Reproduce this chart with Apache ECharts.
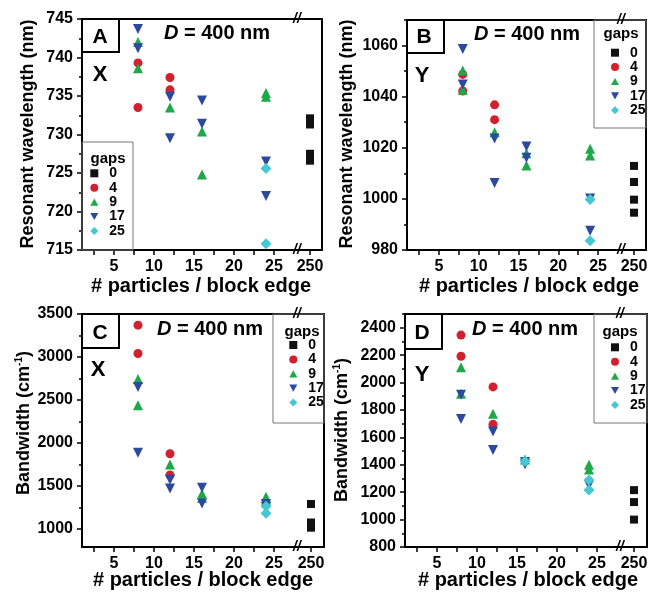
<!DOCTYPE html>
<html>
<head>
<meta charset="utf-8">
<script src="https://cdn.jsdelivr.net/npm/echarts@6/dist/echarts.min.js"></script>
<style>
html,body{margin:0;padding:0;background:#fff;}
#chart{width:651px;height:593px;}
</style>
</head>
<body>
<div id="chart"></div>
<script>
// ---------- data ----------
const gapNames = ['0', '4', '9', '17', '25'];
const xTickLabels = [5, 10, 15, 20, 25];
const xTicks = [2.5, 5, 7.5, 10, 12.5, 15, 17.5, 20, 22.5, 25];
const breakTickLabels = [250];

// Panel A: X, resonant wavelength (nm)
const A_gap0 = [[250, 732.1], [250, 731.3], [250, 727.5], [250, 726.6]];
const A_gap4 = [[8, 739.3], [8, 733.5], [12, 737.4], [12, 735.8]];
const A_gap9 = [[8, 742.0], [8, 738.6], [12, 733.5], [16, 730.4], [16, 724.8], [24, 735.4], [24, 734.9]];
const A_gap17 = [[8, 743.7], [8, 741.2], [12, 734.9], [12, 729.5], [16, 734.4], [16, 731.4], [24, 726.5], [24, 722.0]];
const A_gap25 = [[24, 725.6], [24, 715.8]];
const A_yLabels = [715, 720, 725, 730, 735, 740, 745];
const A_yMinor = [717.5, 722.5, 727.5, 732.5, 737.5, 742.5];

// Panel B: Y, resonant wavelength (nm)
const B_gap0 = [[250, 1012.9], [250, 1006.6], [250, 999.7], [250, 994.6]];
const B_gap4 = [[8, 1048.7], [8, 1042.2], [12, 1036.8], [12, 1031.0]];
const B_gap9 = [[8, 1050.2], [8, 1042.7], [12, 1026.1], [16, 1017.9], [16, 1013.1], [24, 1019.6], [24, 1017.0]];
const B_gap17 = [[8, 1058.7], [8, 1044.8], [12, 1023.6], [12, 1006.2], [16, 1020.5], [16, 1016.1], [24, 1000.2], [24, 987.5]];
const B_gap25 = [[24, 999.8], [24, 983.6]];
const B_yLabels = [980, 1000, 1020, 1040, 1060];
const B_yMinor = [990, 1010, 1030, 1050, 1070];

// Panel C: X, bandwidth (cm-1)
const C_gap0 = [[250, 1290], [250, 1075], [250, 1015]];
const C_gap4 = [[8, 3370], [8, 3040], [12, 1875], [12, 1628]];
const C_gap9 = [[8, 2745], [8, 2440], [12, 1750], [16, 1410], [16, 1360], [24, 1375], [24, 1330]];
const C_gap17 = [[8, 2650], [8, 1885], [12, 1572], [12, 1470], [16, 1478], [16, 1295], [24, 1290], [24, 1255]];
const C_gap25 = [[24, 1265], [24, 1182]];
const C_yLabels = [1000, 1500, 2000, 2500, 3000, 3500];
const C_yMinor = [1250, 1750, 2250, 2750, 3250];

// Panel D: Y, bandwidth (cm-1)
const D_gap0 = [[250, 1215], [250, 1128], [250, 1000]];
const D_gap4 = [[8, 2346], [8, 2192], [12, 1968], [12, 1695]];
const D_gap9 = [[8, 2112], [8, 1919], [12, 1772], [16, 1438], [24, 1400], [24, 1365]];
const D_gap17 = [[8, 1911], [8, 1733], [12, 1643], [12, 1508], [16, 1420], [16, 1403], [24, 1252]];
const D_gap25 = [[16, 1425], [24, 1289], [24, 1215]];
const D_yLabels = [800, 1000, 1200, 1400, 1600, 1800, 2000, 2200, 2400];
const D_yMinor = [900, 1100, 1300, 1500, 1700, 1900, 2100, 2300, 2500];

// ---------- styling / layout ----------
const FONT = "'Liberation Sans', Arial, sans-serif";
const STY = {
  '0': { symbol: 'rect', color: '#111111', size: 8, rotate: 0, icon: 'path://M0,0L10,0L10,10L0,10Z' },
  '4': { symbol: 'circle', color: '#d3202e', size: 9, rotate: 0, icon: 'circle' },
  '9': { symbol: 'triangle', color: '#1fa84a', size: 10, rotate: 0, icon: 'path://M5,0L10,9L0,9Z' },
  '17': { symbol: 'triangle', color: '#2b4a9f', size: 10, rotate: 180, icon: 'path://M0,0L10,0L5,9Z' },
  '25': { symbol: 'diamond', color: '#46c7d3', size: 11, rotate: 0, icon: 'path://M5,0L10,5L5,10L0,5Z' }
};

const panels = [
  { letter: 'A', pol: 'X', data: [A_gap0, A_gap4, A_gap9, A_gap17, A_gap25], yLab: A_yLabels, yMinor: A_yMinor, yMin: 715, yMax: 745,
    left: 82, top: 19, bottom: 250, brk: 298, right: 322, ytitle: 'Resonant wavelength (nm)',
    yt: [28, 134], xt: [201, 286], box: [82, 19, 119, 52], let: [100, 37], pl: [100, 75], dnm: [217, 33],
    lg: [82, 142, 133, 250], gaps: [108, 159], lgPos: [90.3, 166.3] },
  { letter: 'B', pol: 'Y', data: [B_gap0, B_gap4, B_gap9, B_gap17, B_gap25], yLab: B_yLabels, yMinor: B_yMinor, yMin: 980, yMax: 1070,
    left: 407, top: 20, bottom: 250, brk: 622, right: 646, ytitle: 'Resonant wavelength (nm)',
    yt: [347, 134], xt: [529, 286], box: [407, 20, 444, 53], let: [424, 37], pl: [422, 76], dnm: [527, 34],
    lg: [594, 20, 646, 128], gaps: [621, 34], lgPos: [611, 45.7] },
  { letter: 'C', pol: 'X', data: [C_gap0, C_gap4, C_gap9, C_gap17, C_gap25], yLab: C_yLabels, yMinor: C_yMinor, yMin: 790, yMax: 3500,
    left: 82, top: 314, bottom: 547, brk: 298, right: 324, ytitle: 'Bandwidth (cm{sup|-1})',
    yt: [24, 423], xt: [203, 580], box: [82, 314, 119, 348], let: [100, 333], pl: [98, 370], dnm: [210, 329],
    lg: [273, 314, 324, 423], gaps: [302, 332], lgPos: [289.3, 338] },
  { letter: 'D', pol: 'Y', data: [D_gap0, D_gap4, D_gap9, D_gap17, D_gap25], yLab: D_yLabels, yMinor: D_yMinor, yMin: 800, yMax: 2500,
    left: 405, top: 314, bottom: 547, brk: 621, right: 647, ytitle: 'Bandwidth (cm{sup|-1})',
    yt: [342, 430], xt: [528, 580], box: [405, 314, 442, 349], let: [422, 333], pl: [422, 375], dnm: [525, 329],
    lg: [594, 314, 647, 423], gaps: [620, 332], lgPos: [611, 340.3] }
];

const LINE = { show: true, onZero: false, lineStyle: { color: '#000', width: 2 } };
const NOLINE = { show: false };
const LBL = { color: '#000', fontFamily: FONT, fontWeight: 'bold', fontSize: 16, formatter: v => String(v) };

const grids = [], xAxes = [], yAxes = [], series = [], legends = [], graphics = [];

panels.forEach((P, pi) => {
  const g = grids.length;
  const h = P.bottom - P.top;
  grids.push({ left: P.left, top: P.top, width: P.brk - P.left, height: h });
  grids.push({ left: P.brk, top: P.top, width: P.right - P.brk, height: h });

  const xb = xAxes.length;
  xAxes.push({ gridIndex: g, type: 'value', min: 1, max: 28, position: 'bottom', axisLine: LINE,
    axisTick: { show: true, customValues: xTicks, length: 5, lineStyle: { color: '#000', width: 1.5 } },
    axisLabel: Object.assign({ customValues: xTickLabels, margin: 9 }, LBL), splitLine: { show: false } });
  xAxes.push({ gridIndex: g, type: 'value', min: 1, max: 28, position: 'top', axisLine: LINE,
    axisTick: { show: false }, axisLabel: { show: false }, splitLine: { show: false } });
  xAxes.push({ gridIndex: g + 1, type: 'value', min: 247, max: 253, position: 'bottom', axisLine: LINE,
    axisTick: { show: true, customValues: breakTickLabels, length: 5, lineStyle: { color: '#000', width: 1.5 } },
    axisLabel: Object.assign({ customValues: breakTickLabels, margin: 9 }, LBL), splitLine: { show: false } });
  xAxes.push({ gridIndex: g + 1, type: 'value', min: 247, max: 253, position: 'top', axisLine: LINE,
    axisTick: { show: false }, axisLabel: { show: false }, splitLine: { show: false } });

  const yb = yAxes.length;
  yAxes.push({ gridIndex: g, type: 'value', min: P.yMin, max: P.yMax, position: 'left', axisLine: LINE,
    axisTick: { show: true, customValues: P.yLab, length: 5, lineStyle: { color: '#000', width: 1.5 } },
    axisLabel: Object.assign({ customValues: P.yLab, margin: 9 }, LBL), splitLine: { show: false } });
  yAxes.push({ gridIndex: g, type: 'value', min: P.yMin, max: P.yMax, position: 'left', axisLine: NOLINE,
    axisTick: { show: true, customValues: P.yMinor, length: 3, lineStyle: { color: '#000', width: 1.5 } },
    axisLabel: { show: false }, splitLine: { show: false } });
  yAxes.push({ gridIndex: g + 1, type: 'value', min: P.yMin, max: P.yMax, position: 'right', axisLine: LINE,
    axisTick: { show: false }, axisLabel: { show: false }, splitLine: { show: false } });

  gapNames.forEach((name, k) => {
    const s = STY[name];
    const onBreak = name === '0';
    series.push({
      type: 'scatter', name: name,
      xAxisIndex: onBreak ? xb + 2 : xb,
      yAxisIndex: onBreak ? yb + 2 : yb,
      data: P.data[k],
      symbol: s.symbol, symbolSize: s.size, symbolRotate: s.rotate,
      itemStyle: { color: s.color, opacity: 1 },
      emphasis: { disabled: true }, silent: true, z: 3 + k
    });
  });

  legends.push({
    show: true, data: gapNames.map(n => ({ name: n, icon: STY[n].icon })), orient: 'vertical',
    left: P.lgPos[0], top: P.lgPos[1], padding: 0,
    itemWidth: 8, itemHeight: 8, itemGap: 0.4, selectedMode: false,
    textStyle: { color: '#000', fontFamily: FONT, fontWeight: 'bold', fontSize: 14, lineHeight: 14, padding: [0, 0, 0, 6] }
  });

  // legend box and header
  graphics.push({ type: 'rect', shape: { x: P.lg[0], y: P.lg[1], width: P.lg[2] - P.lg[0], height: P.lg[3] - P.lg[1] },
    style: { fill: 'none', stroke: '#777', lineWidth: 1 }, z: 1 });
  graphics.push({ type: 'text', x: P.gaps[0], y: P.gaps[1], style: { text: 'gaps', fill: '#000', font: 'bold 15px ' + FONT, textAlign: 'center', textVerticalAlign: 'middle' } });
  // letter box
  graphics.push({ type: 'rect', shape: { x: P.box[0], y: P.box[1], width: P.box[2] - P.box[0], height: P.box[3] - P.box[1] },
    style: { fill: 'none', stroke: '#000', lineWidth: 2 }, z: 1 });
  graphics.push({ type: 'text', x: P.let[0], y: P.let[1], style: { text: P.letter, fill: '#000', font: 'bold 21px ' + FONT, textAlign: 'center', textVerticalAlign: 'middle' } });
  graphics.push({ type: 'text', x: P.pl[0], y: P.pl[1], style: { text: P.pol, fill: '#000', font: 'bold 22px ' + FONT, textAlign: 'center', textVerticalAlign: 'middle' } });
  // D = 400 nm
  graphics.push({ type: 'text', x: P.dnm[0], y: P.dnm[1], style: {
    text: '{i|D}{n| = 400 nm}', textAlign: 'center', textVerticalAlign: 'middle',
    rich: { i: { fontStyle: 'italic', fontWeight: 'bold', fontSize: 20, fontFamily: FONT, fill: '#000' },
            n: { fontWeight: 'bold', fontSize: 20, fontFamily: FONT, fill: '#000' } } } });
  // axis titles
  graphics.push({ type: 'text', x: P.xt[0], y: P.xt[1], style: { text: '# particles / block edge', fill: '#000', font: 'bold 20px ' + FONT, textAlign: 'center', textVerticalAlign: 'middle' } });
  graphics.push({ type: 'text', x: P.yt[0], y: P.yt[1], rotation: Math.PI / 2, style: {
    text: P.ytitle, textAlign: 'center', textVerticalAlign: 'middle', fill: '#000', fontFamily: FONT, fontWeight: 'bold', fontSize: 18,
    rich: { sup: { fontFamily: FONT, fontWeight: 'bold', fontSize: 10, fill: '#000', padding: [0, 0, 9, 0] } } } });
  // break marks
  [P.bottom, P.top].forEach(yy => {
    graphics.push({ type: 'text', x: P.brk - 1, y: yy, style: { text: '//', fill: '#000', font: 'bold italic 14px ' + FONT, textAlign: 'center', textVerticalAlign: 'middle' }, z: 10 });
  });
});

const chart = echarts.init(document.getElementById('chart'), null, { renderer: 'canvas' });
chart.setOption({
  animation: false,
  backgroundColor: '#fff',
  grid: grids, xAxis: xAxes, yAxis: yAxes, series: series, legend: legends,
  graphic: { elements: graphics }
});
</script>
</body>
</html>
